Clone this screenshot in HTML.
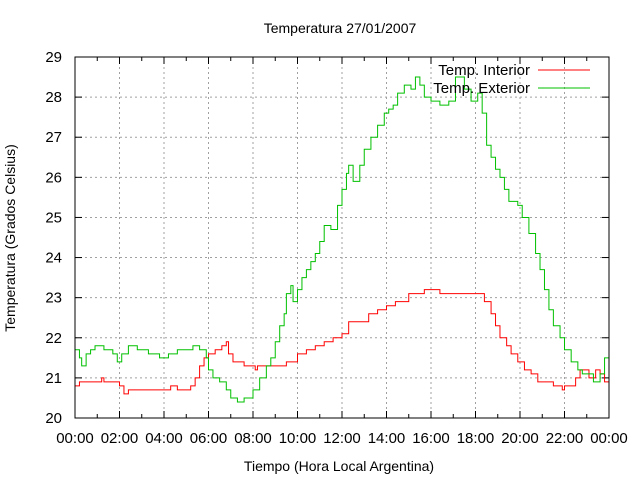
<!DOCTYPE html>
<html><head><meta charset="utf-8"><style>
body{margin:0;background:#fff}
svg{display:block;font-family:"Liberation Sans",sans-serif}
</style></head><body>
<svg id="c" width="640" height="480" xmlns="http://www.w3.org/2000/svg">
<text x="340" y="33" text-anchor="middle" font-size="14">Temperatura 27/01/2007</text>
<text x="339" y="471" text-anchor="middle" font-size="14">Tiempo (Hora Local Argentina)</text>
<text transform="translate(15,238) rotate(-90)" text-anchor="middle" font-size="14">Temperatura (Grados Celsius)</text>
<g id="grid"></g><g id="ticks"></g><g id="series"></g>
<rect x="75" y="57" width="534" height="361" fill="none" stroke="#000" stroke-width="1"/>
<g>
<text x="530" y="75" text-anchor="end" font-size="15">Temp. Interior</text>
<line x1="538" y1="70" x2="590" y2="70" stroke="#ff0000"/>
<text x="530" y="93" text-anchor="end" font-size="15">Temp. Exterior</text>
<line x1="538" y1="88" x2="590" y2="88" stroke="#00c000"/>
</g>
</svg>
<script>
const xTickLabels=["00:00","02:00","04:00","06:00","08:00","10:00","12:00","14:00","16:00","18:00","20:00","22:00","00:00"];
const yTickValues=[20,21,22,23,24,25,26,27,28,29];
const extHours=[0,0.2,0.3,0.5,0.7,0.9,1.3,1.7,1.9,2.1,2.4,2.8,3.3,3.8,4.2,4.6,5.3,5.6,5.9,6.0,6.2,6.5,6.8,7.0,7.3,7.6,8.0,8.3,8.6,8.8,9.0,9.2,9.4,9.5,9.7,9.8,10.0,10.2,10.4,10.6,10.8,11.0,11.2,11.5,11.8,12.0,12.2,12.3,12.5,12.8,13.0,13.3,13.6,13.9,14.1,14.3,14.5,14.8,15.1,15.3,15.5,15.7,16.0,16.4,16.8,17.1,17.5,17.8,18.1,18.3,18.5,18.7,18.9,19.1,19.3,19.5,19.9,20.1,20.4,20.7,20.9,21.1,21.3,21.5,21.8,22.0,22.3,22.6,22.8,23.1,23.3,23.6,23.8,24];
const extTemps=[21.7,21.5,21.3,21.6,21.7,21.8,21.7,21.6,21.4,21.6,21.8,21.7,21.6,21.5,21.6,21.7,21.8,21.7,21.5,21.2,21.0,20.9,20.7,20.5,20.4,20.5,20.7,21.0,21.3,21.5,21.9,22.3,22.6,23.1,23.3,22.9,23.2,23.5,23.7,23.9,24.1,24.4,24.8,24.7,25.3,25.7,26.1,26.3,25.9,26.3,26.7,27.0,27.3,27.6,27.7,27.8,28.1,28.3,28.2,28.5,28.3,28.0,27.9,27.8,27.9,28.5,28.2,27.9,28.1,27.6,26.8,26.5,26.2,26.0,25.7,25.4,25.3,25.0,24.6,24.1,23.7,23.2,22.7,22.3,22.0,21.7,21.4,21.2,21.1,21.1,20.9,21.1,21.5,21.7];
const intHours=[0,0.2,1.0,1.2,1.3,2.0,2.2,2.4,4.0,4.3,4.6,5.2,5.4,5.6,5.8,6.0,6.3,6.6,6.8,6.9,7.1,7.6,8.1,8.2,9.0,9.5,10.0,10.4,10.8,11.2,11.6,12.0,12.3,13.2,13.6,14.0,14.4,15.0,15.7,16.4,18.3,18.4,18.7,18.9,19.1,19.4,19.6,19.9,20.2,20.5,20.8,21.5,21.9,22.0,22.5,22.7,23.1,23.4,23.6,23.8,24];
const intTemps=[20.8,20.9,20.9,21.0,20.9,20.8,20.6,20.7,20.7,20.8,20.7,20.8,21.0,21.3,21.5,21.6,21.7,21.8,21.9,21.6,21.4,21.3,21.2,21.3,21.3,21.4,21.6,21.7,21.8,21.9,22.0,22.1,22.4,22.6,22.7,22.8,22.9,23.1,23.2,23.1,23.1,22.9,22.6,22.3,22.0,21.8,21.6,21.4,21.2,21.1,20.9,20.8,20.7,20.8,21.0,21.2,21.0,21.2,21.1,20.9,20.8];
const L=75,R=609,T=57,B=418;
const xs=h=>L+(R-L)*h/24;
const ys=v=>B-(B-T)*(v-20)/9;
const NS="http://www.w3.org/2000/svg";
function mk(tag,attrs,parent){const e=document.createElementNS(NS,tag);for(const k in attrs)e.setAttribute(k,attrs[k]);parent.appendChild(e);return e;}
const grid=document.getElementById('grid'),ticks=document.getElementById('ticks'),ser=document.getElementById('series');
xTickLabels.forEach((lab,i)=>{const x=xs(i*2);
 if(i>0&&i<12){const g=mk('line',{x1:x,y1:T,x2:x,y2:B,stroke:'#a0a0a0','stroke-dasharray':'2,3'},grid);
 
 }
 const t=mk('text',{x:x,y:443,'text-anchor':'middle','font-size':'15'},ticks);t.textContent=lab;
 
 
 mk('line',{x1:x,y1:B,x2:x,y2:B-7,stroke:'#000'},ticks);mk('line',{x1:x,y1:T,x2:x,y2:T+7,stroke:'#000'},ticks);
 if(i<12){const xm=xs(i*2+1);mk('line',{x1:xm,y1:B,x2:xm,y2:B-4,stroke:'#000'},ticks);mk('line',{x1:xm,y1:T,x2:xm,y2:T+4,stroke:'#000'},ticks);}
});
yTickValues.forEach(v=>{const y=ys(v);
 if(v>20&&v<29){const g=mk('line',{x1:L,y1:y,x2:R,y2:y,stroke:'#a0a0a0','stroke-dasharray':'2,3'},grid);
 
 }
 const t=mk('text',{x:62,y:y+5,'text-anchor':'end','font-size':'15'},ticks);t.textContent=v;
 
 
 mk('line',{x1:L,y1:y,x2:L+7,y2:y,stroke:'#000'},ticks);mk('line',{x1:R,y1:y,x2:R-7,y2:y,stroke:'#000'},ticks);
});
function stepPath(hs,vs){let d='M'+xs(hs[0])+','+ys(vs[0]);for(let i=1;i<hs.length;i++){d+='H'+xs(hs[i])+'V'+ys(vs[i]);}return d;}
const pi=mk('path',{d:stepPath(intHours,intTemps),fill:'none',stroke:'#ff0000','stroke-width':'1'},ser);


const pe=mk('path',{d:stepPath(extHours,extTemps),fill:'none',stroke:'#00c000','stroke-width':'1'},ser);


</script>
</body></html>
